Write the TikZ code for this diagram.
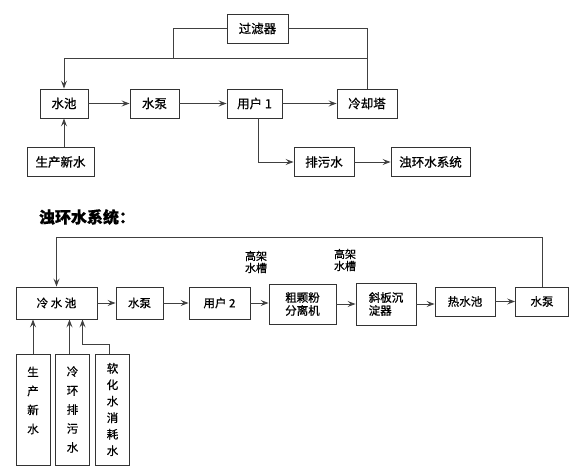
\documentclass[tikz,border=0pt]{standalone}
\usepackage{fontspec}
\setmainfont{Noto Sans CJK SC}[FakeBold = 0.8]
\usetikzlibrary{arrows.meta}
\begin{document}
\begin{tikzpicture}[x = 1pt, y = -1pt,
		kasten/.style = {draw = black!80, line width = 0.9pt, inner sep = 1pt, minimum height = 29pt, font = \fontsize{12.5}{14}\selectfont},
		klein/.style = {draw = black!80, line width = 0.9pt, inner sep = 1pt, align = center, font = \fontsize{11.5}{13}\selectfont},
		pfeil/.style = {draw = black!75, line width = 0.9pt, -{Stealth[length = 8pt, width = 6pt, inset = 3pt]}},
		linie/.style = {draw = black!75, line width = 0.9pt}]
	\useasboundingbox (0,0) rectangle (573,473);
	% Kreislauf oben
	\node[kasten, minimum width = 61pt] (filter) at (257.5,28.5) {过滤器};
	\node[kasten, minimum width = 48pt] (becken) at (64,103.5) {水池};
	\node[kasten, minimum width = 49pt] (pumpe) at (154.5,103.5) {水泵};
	\node[kasten, minimum width = 55pt] (nutzer) at (254.5,103.5) {用户 1};
	\node[kasten, minimum width = 60pt] (turm) at (367,103.5) {冷却塔};
	\node[kasten, minimum width = 67pt] (neu) at (60.5,162) {生产新水};
	\node[kasten, minimum width = 60pt] (abwasser) at (324,162) {排污水};
	\node[kasten, minimum width = 79pt] (truebsys) at (430.5,162) {浊环水系统};
	\coordinate (abzweig) at (173,58);
	\draw[pfeil] (becken.east) -- (pumpe.west);
	\draw[pfeil] (pumpe.east) -- (nutzer.west);
	\draw[pfeil] (nutzer.east) -- (turm.west);
	\draw[pfeil] (becken.south |- neu.north) -- (becken.south);
	\draw[pfeil] ([xshift = 3.5pt]nutzer.south) |- (abwasser.west);
	\draw[pfeil] (abwasser.east) -- (truebsys.west);
	\draw[pfeil] (turm.north) -- (turm.north |- abzweig) -| (becken.north);
	\draw[linie] (turm.north |- abzweig) |- (filter.east);
	\draw[linie] (filter.west) -| (abzweig);
	% Truebwasser
	\node[font = \fontsize{16}{18}\selectfont\bfseries] (titel) at (87,217) {浊环水系统：};
	\node[klein, minimum width = 81pt, minimum height = 32pt] (kalt) at (56.5,303) {冷 水 池};
	\node[klein, minimum width = 47pt, minimum height = 32pt] (pumpe2) at (139.5,303) {水泵};
	\node[klein, minimum width = 61pt, minimum height = 32pt] (nutzer2) at (219.5,303) {用户 2};
	\node[klein, minimum width = 67pt, minimum height = 40pt] (trenner) at (302.5,304) {粗颗粉\\分离机};
	\node[klein, minimum width = 60pt, minimum height = 42pt, align = left] (absetzer) at (386,304) {斜板沉\\淀器};
	\node[klein, minimum width = 60pt, minimum height = 29pt] (heiss) at (465,301.5) {热水池};
	\node[klein, minimum width = 53pt, minimum height = 29pt] (pumpe3) at (542,301.5) {水泵};
	\node[align = center, inner sep = 0pt, font = \fontsize{11}{12}\selectfont] (hoch1) at (256,262) {高架\\水槽};
	\node[align = center, inner sep = 0pt, font = \fontsize{11}{12}\selectfont] (hoch2) at (345,260) {高架\\水槽};
	\node[klein, minimum width = 34pt, minimum height = 111pt, font = \fontsize{11.5}{19}\selectfont] (neu2) at (33,409.5) {生\\产\\新\\水\\ \mbox{}};
	\node[klein, minimum width = 34pt, minimum height = 111pt, font = \fontsize{11.5}{19}\selectfont] (kreis) at (72.5,409.5) {冷\\环\\排\\污\\水};
	\node[klein, minimum width = 34pt, minimum height = 111pt, font = \fontsize{11.5}{16.5}\selectfont] (enth) at (112.5,409.5) {软\\化\\水\\消\\耗\\水};
	\coordinate (oben) at (300,237);
	\draw[pfeil] (kalt.east) -- (kalt.east -| pumpe2.west);
	\draw[pfeil] (pumpe2.east) -- (pumpe2.east -| nutzer2.west);
	\draw[pfeil] (nutzer2.east) -- (nutzer2.east -| trenner.west);
	\draw[pfeil] (trenner.east) -- (trenner.east -| absetzer.west);
	\draw[pfeil] (absetzer.east) -- (absetzer.east -| heiss.west);
	\draw[pfeil] (heiss.east) -- (heiss.east -| pumpe3.west);
	\draw[pfeil] (pumpe3.north) -- (pumpe3.north |- oben) -| (kalt.north);
	\draw[pfeil] (neu2.north) -- (neu2.north |- kalt.south);
	\draw[pfeil] ([xshift = -3pt]kreis.north) -- ([xshift = -3pt]kreis.north |- kalt.south);
	\draw[pfeil] ([xshift = -3.5pt]enth.north) -- ++(0,-9) -| ([xshift = 26pt]kalt.south);
\end{tikzpicture}
\end{document}
